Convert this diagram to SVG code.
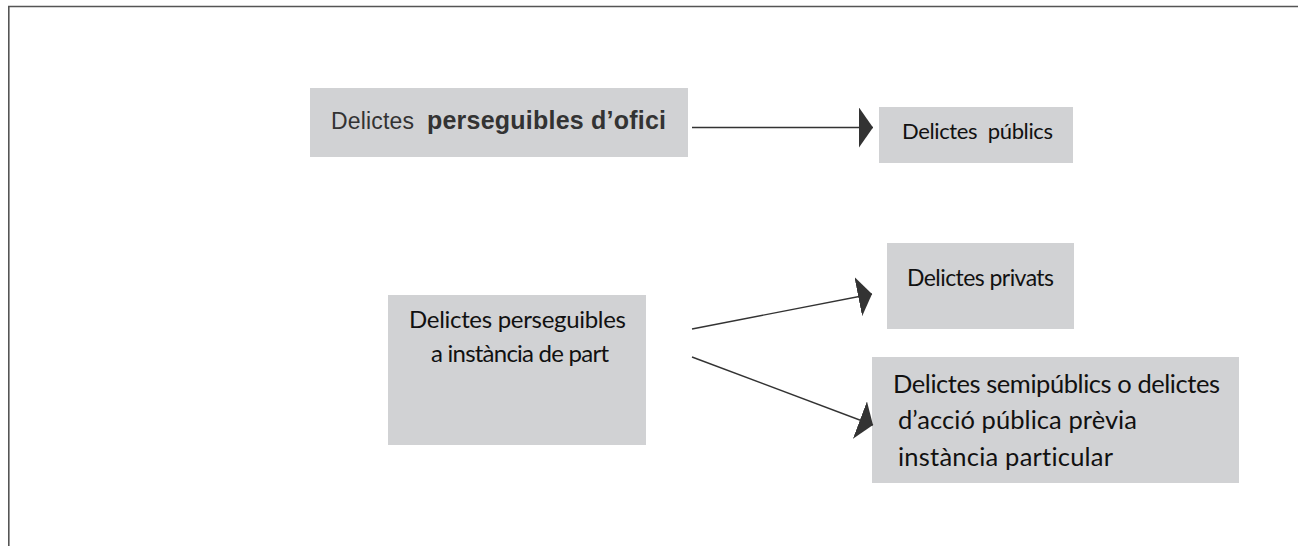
<svg xmlns="http://www.w3.org/2000/svg" width="1298" height="546" viewBox="0 0 1298 546">
<style>
.box{fill:#d1d2d4}
.t{font-family:Lato,"Open Sans","Noto Sans",sans-serif;fill:#111;white-space:pre;font-variant-ligatures:none}
.a{font-family:"Liberation Sans",Arial,sans-serif;fill:#333}
.c{stroke:#333;stroke-width:1.4;fill:none}
</style>
<defs>
<marker id="ah" markerUnits="userSpaceOnUse" viewBox="0 0 14 40" markerWidth="14" markerHeight="40" refX="14" refY="20" orient="auto">
<path d="M0,0 L14,20 L0,40 z" fill="#333"/>
</marker>
</defs>
<rect width="1298" height="546" fill="#fff"/>
<path d="M1298,6.5 H8.8 V546" fill="none" stroke="#555" stroke-width="1.6"/>
<g id="n1">
<rect class="box" x="310" y="88" width="378" height="69"/>
<text class="a" x="331" y="129" font-size="23" textLength="83" lengthAdjust="spacing">Delictes</text>
<text class="a" x="427" y="129" font-weight="bold" font-size="25" textLength="239" lengthAdjust="spacing">perseguibles d’ofici</text>
</g>
<g id="n2">
<rect class="box" x="879" y="107" width="194" height="56"/>
<text class="t" x="902" y="139" font-size="22" textLength="151" lengthAdjust="spacing">Delictes  públics</text>
</g>
<g id="n3">
<rect class="box" x="388" y="295" width="258" height="150"/>
<text class="t" x="409" y="328" font-size="24" textLength="217" lengthAdjust="spacing">Delictes perseguibles</text>
<text class="t" x="431" y="362" font-size="24" textLength="178" lengthAdjust="spacing">a instància de part</text>
</g>
<g id="n4">
<rect class="box" x="887" y="243" width="187" height="86"/>
<text class="t" x="907" y="286" font-size="23" textLength="147" lengthAdjust="spacing">Delictes privats</text>
</g>
<g id="n5">
<rect class="box" x="872" y="357" width="367" height="126"/>
<text class="t" x="893" y="393" font-size="25.5" textLength="327" lengthAdjust="spacing">Delictes semipúblics o delictes</text>
<text class="t" x="898" y="429" font-size="25.5" textLength="239" lengthAdjust="spacing">d’acció pública prèvia</text>
<text class="t" x="898" y="466" font-size="25.5" textLength="215" lengthAdjust="spacing">instància particular</text>
</g>
<g id="connectors">
<line class="c" x1="692" y1="127.5" x2="873" y2="127.5" marker-end="url(#ah)"/>
<line class="c" x1="692" y1="329" x2="872" y2="294" marker-end="url(#ah)"/>
<line class="c" x1="692" y1="357" x2="873" y2="425" marker-end="url(#ah)"/>
</g>
</svg>
